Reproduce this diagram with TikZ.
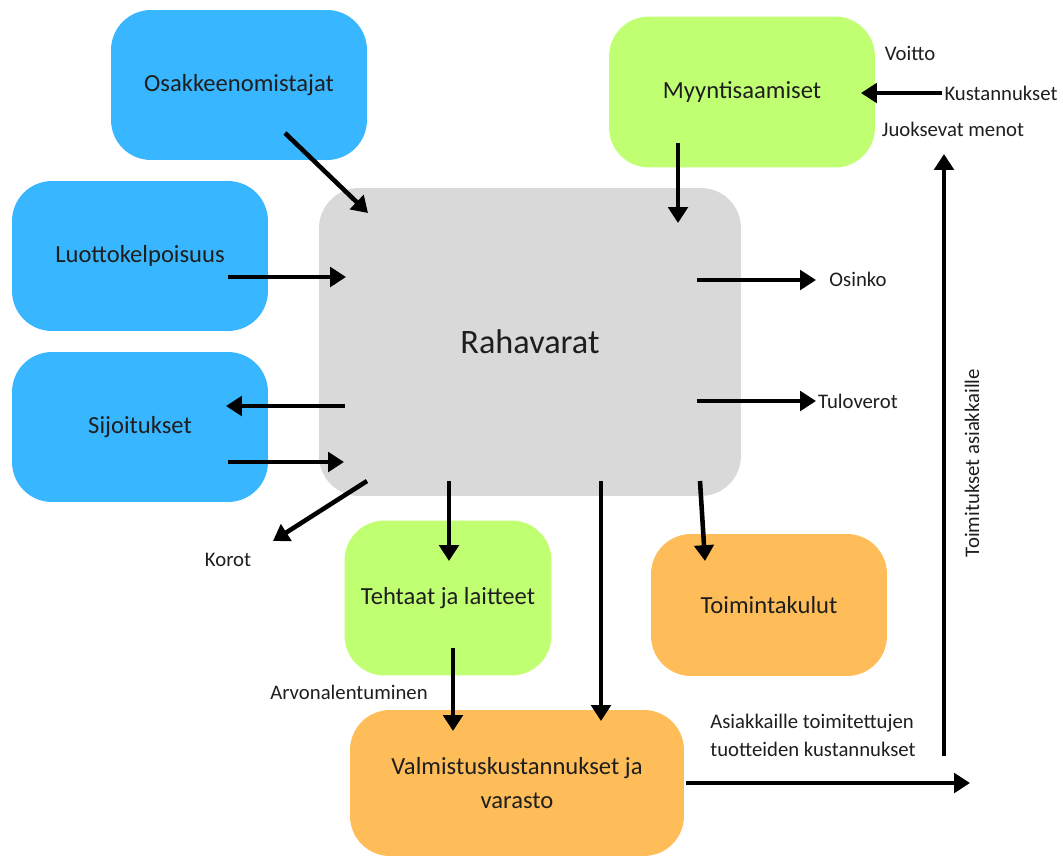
\documentclass[tikz,border=0pt]{standalone}
\usepackage{fontspec}
\setmainfont{Carlito}
\usetikzlibrary{arrows.meta, positioning, calc}
\definecolor{skyb}{RGB}{56,182,255}
\definecolor{lime}{RGB}{193,255,114}
\definecolor{amber}{RGB}{255,189,89}
\definecolor{ash}{RGB}{217,217,217}
\definecolor{ink}{RGB}{30,30,30}

\begin{document}
\begin{tikzpicture}[x=0.02cm, y=-0.02cm,
    box/.style={rounded corners=0.8cm, inner sep=0pt, align=center,
                text=ink, font=\fontsize{14}{19}\selectfont},
    flow/.style={line width=2.6pt, -{Triangle[length=9pt,width=11pt]}},
    lbl/.style={text=ink, inner sep=1pt, font=\fontsize{11.8}{16}\selectfont}]
    \useasboundingbox (0,0) rectangle (1063,856);

    % cash in the middle
    \node[box, fill=ash, minimum width=8.44cm, minimum height=6.16cm,
          font=\fontsize{19.5}{24}\selectfont] (raha) at (530,342) {Rahavarat};

    % financing side
    \node[box, fill=skyb, minimum width=5.12cm, minimum height=3cm] (osak) at (239,85) {Osakkeenomistajat};
    \node[box, fill=skyb, minimum width=5.12cm, minimum height=3cm] (luot) at (140,256) {Luottokelpoisuus};
    \node[box, fill=skyb, minimum width=5.12cm, minimum height=3cm] (sijo) at (140,427) {Sijoitukset};

    % operating side
    \node[box, fill=lime, minimum width=5.32cm, minimum height=3.02cm] (myyn) at (742,92) {Myyntisaamiset};
    \node[box, fill=lime, minimum width=4.14cm, minimum height=3.1cm] (teht) at (448,598) {Tehtaat ja laitteet};
    \node[box, fill=amber, minimum width=4.72cm, minimum height=2.84cm] (toim) at (769,605) {Toimintakulut};
    \node[box, fill=amber, minimum width=6.68cm, minimum height=2.92cm] (valm) at (517,783) {Valmistuskustannukset ja\\varasto};

    % loose labels
    \node[lbl] (korot) at (228,560) {Korot};
    \node[lbl] (osinko) at (858,279) {Osinko};
    \node[lbl] (vero) at (858,401) {Tuloverot};
    \node[lbl] (arvo) at (349,692) {Arvonalentuminen};
    \node[lbl, align=left] (asiak) at (813,735) {Asiakkaille toimitettujen\\tuotteiden kustannukset};
    \node[lbl, rotate=90] (toimas) at (972,463) {Toimitukset asiakkaille};
    \node[lbl] (voitto) at (910,53) {Voitto};
    \node[lbl] (kust) at (1001,93) {Kustannukset};
    \node[lbl] (juok) at (953,129) {Juoksevat menot};

    % arrow ends
    \coordinate (a1) at (285,133);  \coordinate (b1) at (368,213);
    \coordinate (a2) at (228,277);  \coordinate (b2) at (346,277);
    \coordinate (a3) at (345,406);  \coordinate (b3) at (226,406);
    \coordinate (a4) at (228,462);  \coordinate (b4) at (344,462);
    \coordinate (a5) at (367,481);  \coordinate (b5) at (273,541);
    \coordinate (a6) at (449,481);  \coordinate (b6) at (449,561);
    \coordinate (a7) at (678,143);  \coordinate (b7) at (678,223);
    \coordinate (a8) at (697,280);  \coordinate (b8) at (816,280);
    \coordinate (a9) at (697,401);  \coordinate (b9) at (816,401);
    \coordinate (a10) at (700,481); \coordinate (b10) at (705,561);
    \coordinate (a11) at (601,481); \coordinate (b11) at (601,721);
    \coordinate (a12) at (453,648); \coordinate (b12) at (453,731);
    \coordinate (a13) at (686,783); \coordinate (b13) at (970,783);
    \coordinate (a14) at (944,756); \coordinate (b14) at (944,154);
    \coordinate (b15) at (861,93);

    % flows
    \draw[flow] (a1) -- (b1);
    \draw[flow] (a2) -- (b2);
    \draw[flow] (a3) -- (b3);
    \draw[flow] (a4) -- (b4);
    \draw[flow] (a5) -- (b5);
    \draw[flow] (a6) -- (b6);
    \draw[flow] (a7) -- (b7);
    \draw[flow] (a8) -- (b8);
    \draw[flow] (a9) -- (b9);
    \draw[flow] (a10) -- (b10);
    \draw[flow] (a11) -- (b11);
    \draw[flow] (a12) -- (b12);
    \draw[flow] (a13) -- (b13);
    \draw[flow] (a14) -- (b14);
    \draw[flow] (kust.west) -- (b15);
\end{tikzpicture}
\end{document}
